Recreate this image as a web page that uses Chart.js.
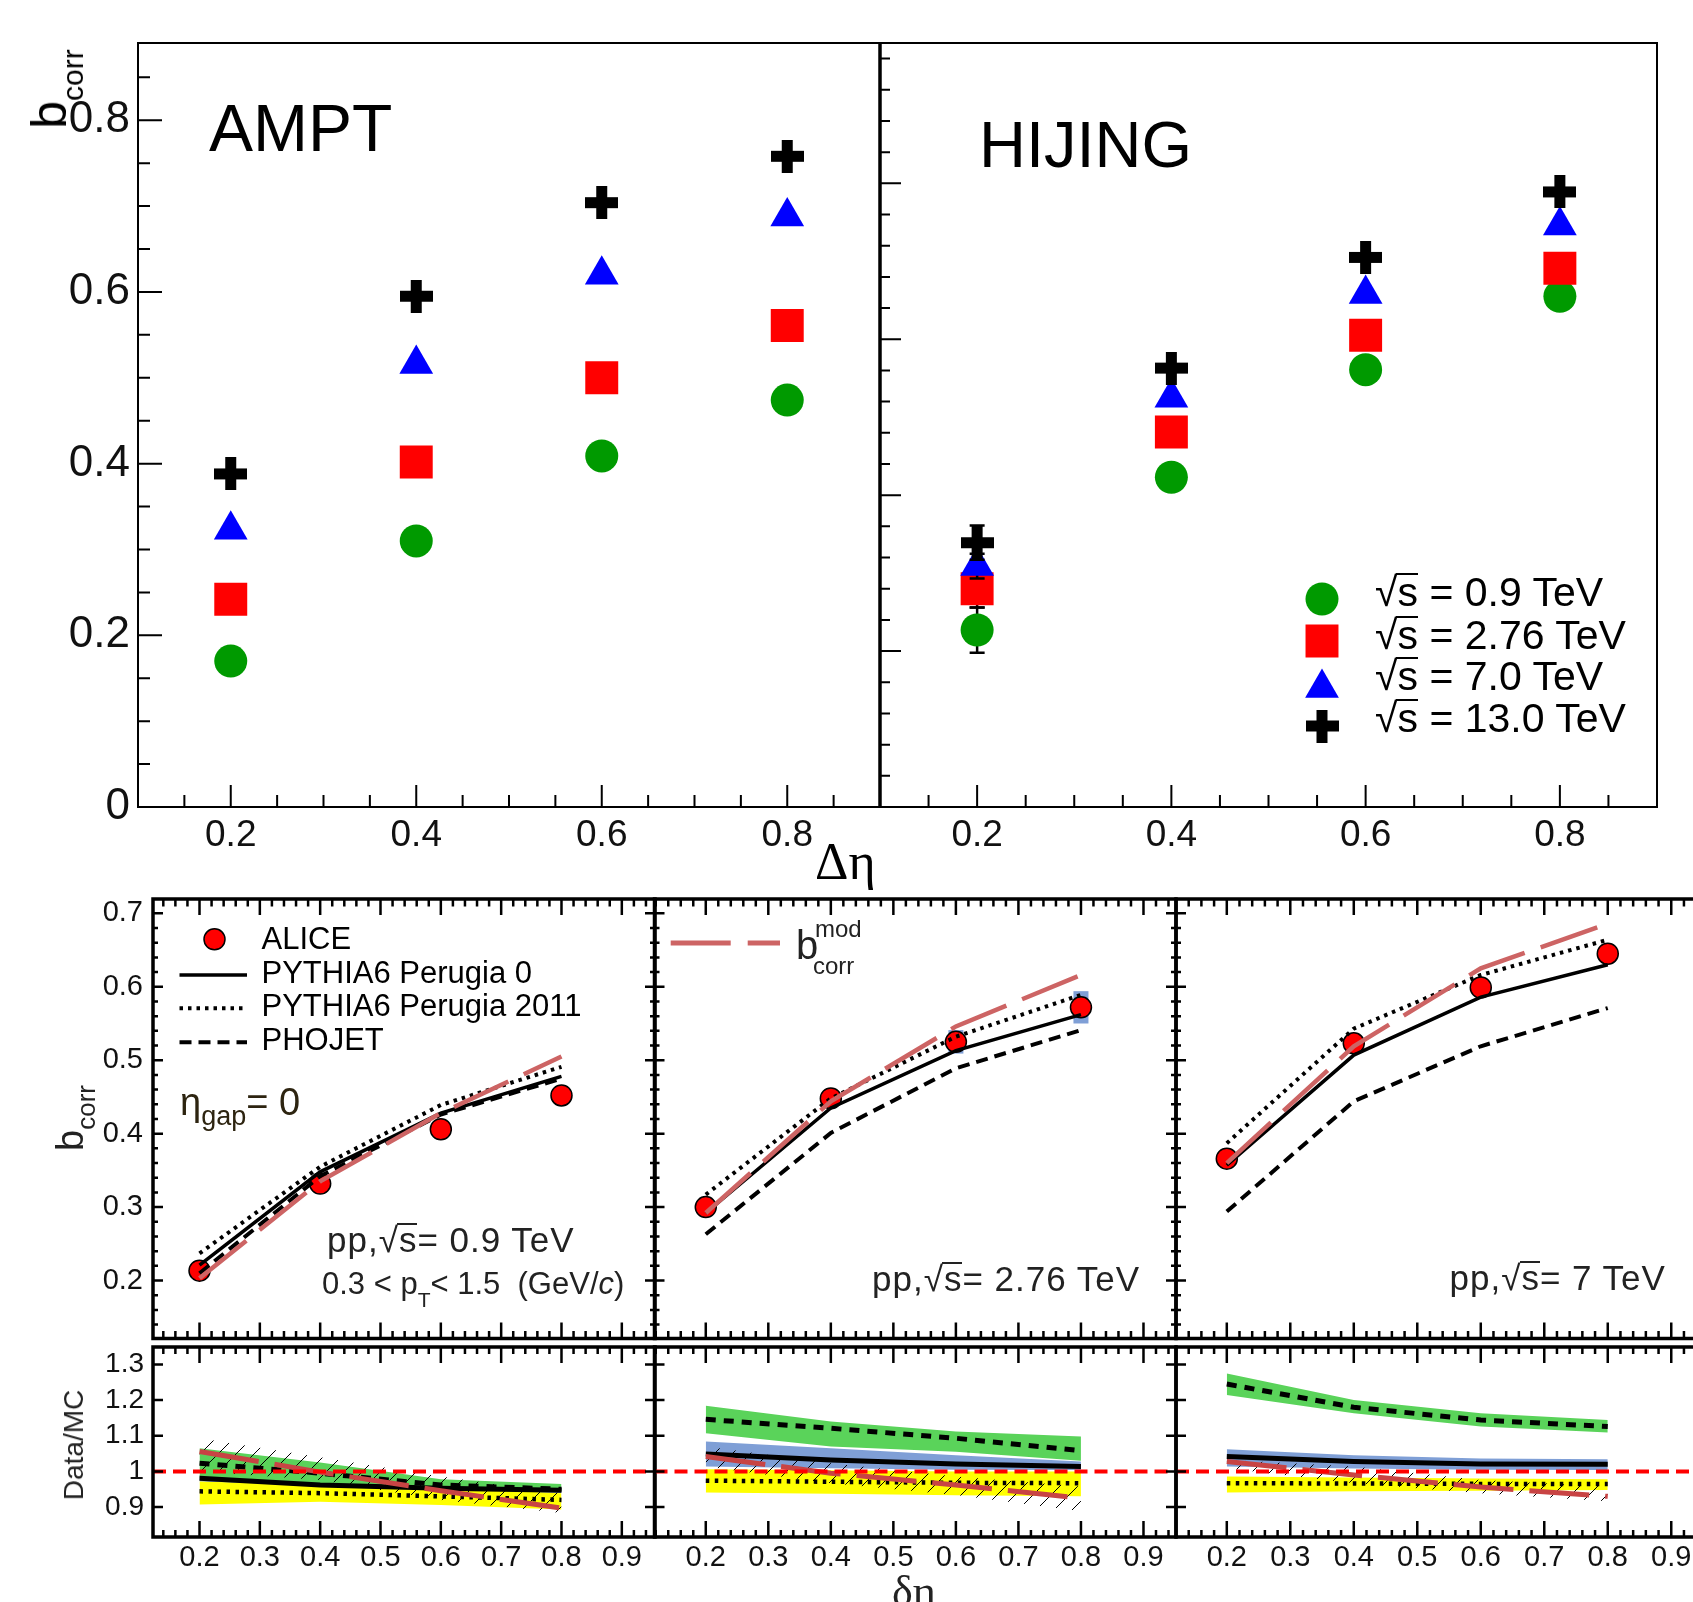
<!DOCTYPE html>
<html>
<head>
<meta charset="utf-8">
<title>b_corr vs delta eta</title>
<script src="https://cdn.jsdelivr.net/npm/chart.js@4.4.1/dist/chart.umd.min.js"></script>
<style>
  html, body { margin: 0; padding: 0; background: #fff; }
  body { position: relative; width: 1693px; height: 1602px; overflow: hidden;
         font-family: "Liberation Sans", Arial, sans-serif; }
  canvas { position: absolute; }
  .t { position: absolute; white-space: nowrap; line-height: 1; color: #000; }
  .rot { transform: translate(-50%, -50%) rotate(-90deg); }
  .ov { position: relative; display: inline-block; }
  .ov::before { content: ''; position: absolute; left: -0.04em; right: 0; top: 0.03em;
                border-top: 2px solid currentColor; }
  .serif { font-family: "Liberation Serif", "DejaVu Serif", serif; }
</style>
</head>
<body>
<canvas id="ampt"></canvas>
<canvas id="hijing"></canvas>
<canvas id="m09"></canvas>
<canvas id="r09"></canvas>
<canvas id="m276"></canvas>
<canvas id="r276"></canvas>
<canvas id="m7"></canvas>
<canvas id="r7"></canvas>
<script>
// ---- data ----
const deta = [0.2, 0.4, 0.6, 0.8];

// top row: AMPT / HIJING, one array per sqrt(s)
const amptS09  = [0.170, 0.310, 0.409, 0.474];
const amptS276 = [0.242, 0.402, 0.500, 0.561];
const amptS7   = [0.323, 0.516, 0.620, 0.688];
const amptS13  = [0.388, 0.595, 0.704, 0.758];

const hijS09  = [0.227, 0.423, 0.561, 0.655];
const hijS276 = [0.280, 0.481, 0.605, 0.691];
const hijS7   = [0.309, 0.525, 0.658, 0.746];
const hijS13  = [0.339, 0.563, 0.705, 0.789];
const hijErr09  = [0.029, 0, 0, 0];
const hijErr276 = [0.024, 0, 0, 0];
const hijErr7   = [0.016, 0, 0, 0];
const hijErr13  = [0.022, 0, 0, 0];

// bottom row: ALICE data and generators
const alice09 = [0.2135, 0.332, 0.406, 0.452];
const p0_09   = [0.221, 0.348, 0.428, 0.478];
const p11_09  = [0.237, 0.355, 0.439, 0.491];
const pho09   = [0.210, 0.342, 0.426, 0.475];
const mod09   = [0.203, 0.335, 0.428, 0.505];

const alice276 = [0.300, 0.448, 0.525, 0.572];
const sys276   = [0.008, 0.010, 0.016, 0.022];
const p0_276   = [0.292, 0.435, 0.513, 0.562];
const p11_276  = [0.317, 0.448, 0.532, 0.589];
const pho276   = [0.263, 0.401, 0.489, 0.541];
const mod276   = [0.292, 0.444, 0.546, 0.616];

const alice7 = [0.366, 0.523, 0.599, 0.645];
const p0_7   = [0.357, 0.507, 0.586, 0.630];
const p11_7  = [0.387, 0.543, 0.616, 0.664];
const pho7   = [0.294, 0.444, 0.519, 0.571];
const mod7   = [0.360, 0.519, 0.625, 0.686];

// ratios Data/MC: central lines and bands (hi, lo)
const rPho09 = [1.023, 0.995, 0.962, 0.950], rPhoHi09 = [1.065, 1.025, 0.978, 0.965], rPhoLo09 = [0.981, 0.962, 0.953, 0.944];
const rP0_09 = [0.981, 0.962, 0.953, 0.947], rP0Hi09 = [0.990, 0.970, 0.960, 0.955], rP0Lo09 = [0.972, 0.955, 0.946, 0.940];
const rP11_09 = [0.944, 0.939, 0.930, 0.920], rP11Hi09 = [0.972, 0.962, 0.955, 0.939], rP11Lo09 = [0.907, 0.915, 0.906, 0.893];
const rMod09 = [1.056, 0.998, 0.946, 0.897], rModHi09 = [1.093, 1.040, 0.986, 0.939], rModLo09 = [1.000, 0.976, 0.920, 0.883];

const rPho276 = [1.146, 1.121, 1.093, 1.058], rPhoHi276 = [1.184, 1.140, 1.112, 1.098], rPhoLo276 = [1.107, 1.070, 1.055, 1.030];
const rP0_276 = [1.049, 1.032, 1.021, 1.014], rP0Hi276 = [1.084, 1.065, 1.045, 1.028], rP0Lo276 = [1.014, 1.009, 1.005, 1.004];
const rP11_276 = [0.974, 0.971, 0.968, 0.967], rP11Hi276 = [1.006, 1.003, 1.000, 1.000], rP11Lo276 = [0.941, 0.937, 0.933, 0.930];
const rMod276 = [1.042, 0.995, 0.962, 0.925], rModHi276 = [1.070, 1.023, 0.986, 0.958], rModLo276 = [1.014, 0.967, 0.934, 0.888];

const rPho7 = [1.245, 1.180, 1.144, 1.126], rPhoHi7 = [1.275, 1.200, 1.163, 1.144], rPhoLo7 = [1.214, 1.163, 1.126, 1.109];
const rP0_7 = [1.042, 1.028, 1.021, 1.020], rP0Hi7 = [1.062, 1.045, 1.036, 1.034], rP0Lo7 = [1.014, 1.008, 1.005, 1.004];
const rP11_7 = [0.967, 0.966, 0.965, 0.965], rP11Hi7 = [0.986, 0.983, 0.980, 0.978], rP11Lo7 = [0.941, 0.944, 0.946, 0.948];
const rMod7 = [1.028, 0.990, 0.956, 0.930], rModHi7 = [1.032, 1.014, 0.976, 0.958], rModLo7 = [1.009, 0.967, 0.939, 0.916];

// tick labels
const topXTicks = [0.2, 0.4, 0.6, 0.8];
const amptYTicks = [0, 0.2, 0.4, 0.6, 0.8];
const botXTicks = [0.2, 0.3, 0.4, 0.5, 0.6, 0.7, 0.8, 0.9];
const mainYTicks = [0.2, 0.3, 0.4, 0.5, 0.6, 0.7];
const ratioYTicks = [0.9, 1.0, 1.1, 1.2, 1.3];

// ---- helpers ----
function steps(a, b, s, skip) {
  const out = [];
  for (let i = 0; a + i * s <= b + 1e-9; i++) {
    const v = +(a + i * s).toFixed(4);
    if (!skip || !skip.some(m => Math.abs(m - v) < 1e-6)) out.push(v);
  }
  return out;
}
const pts = arr => deta.map((x, i) => ({ x: x, y: arr[i] }));
const fmt = v => (Math.abs(v) < 1e-9 ? '0' : Math.abs(v - 1) < 1e-9 ? '1' : v.toFixed(1));

const plusStyle = (() => {
  const s = 33, b = 11, c = document.createElement('canvas');
  c.width = c.height = s;
  const g = c.getContext('2d');
  g.fillStyle = '#000';
  g.fillRect((s - b) / 2, 0, b, s);
  g.fillRect(0, (s - b) / 2, s, b);
  return c;
})();

function hatchPattern() {
  const n = 18, c = document.createElement('canvas');
  c.width = c.height = n;
  const g = c.getContext('2d');
  g.strokeStyle = '#000';
  g.lineWidth = 1;
  g.beginPath();
  g.moveTo(0, n); g.lineTo(n, 0);
  g.moveTo(-2, 2); g.lineTo(2, -2);
  g.moveTo(n - 2, n + 2); g.lineTo(n + 2, n - 2);
  g.stroke();
  return g.createPattern(c, 'repeat');
}
const HATCH = hatchPattern();

function drawMarker(ctx, style, x, y, r, color) {
  ctx.fillStyle = color;
  ctx.beginPath();
  if (style === 'circle') ctx.arc(x, y, r, 0, Math.PI * 2);
  else if (style === 'rect') { const s = r * Math.SQRT1_2; ctx.rect(x - s, y - s, 2 * s, 2 * s); }
  else if (style === 'triangle') {
    ctx.moveTo(x, y - r);
    ctx.lineTo(x + 0.866 * r, y + 0.5 * r);
    ctx.lineTo(x - 0.866 * r, y + 0.5 * r);
    ctx.closePath();
  } else { ctx.drawImage(style, x - style.width / 2, y - style.height / 2); return; }
  ctx.fill();
}

// frame with inward ticks
function framePlugin(o) {
  return {
    id: 'frame',
    afterDatasetsDraw(chart) {
      const { ctx, chartArea: a } = chart;
      const sx = chart.scales.x, sy = chart.scales.y;
      ctx.save();
      ctx.setLineDash([]);
      ctx.strokeStyle = '#000';
      ctx.lineWidth = o.tw;
      ctx.beginPath();
      const tx = (vals, len) => vals.forEach(v => {
        if (v <= sx.min || v >= sx.max) return;
        const p = sx.getPixelForValue(v);
        if (o.bottom) { ctx.moveTo(p, a.bottom); ctx.lineTo(p, a.bottom - len); }
        if (o.top) { ctx.moveTo(p, a.top); ctx.lineTo(p, a.top + len); }
      });
      const ty = (vals, len) => vals.forEach(v => {
        if (v <= sy.min || v >= sy.max) return;
        const p = sy.getPixelForValue(v);
        if (o.left) { ctx.moveTo(a.left, p); ctx.lineTo(a.left + len, p); }
        if (o.right) { ctx.moveTo(a.right, p); ctx.lineTo(a.right - len, p); }
      });
      tx(o.xMajor, o.xLen[0]); tx(o.xMinor || [], o.xLen[1]);
      ty(o.yMajor, o.yLen[0]); ty(o.yMinor || [], o.yLen[1]);
      ctx.stroke();
      ctx.lineWidth = o.lw;
      ctx.strokeRect(a.left, a.top, a.right - a.left, a.bottom - a.top);
      if (o.leftLw) {
        ctx.lineWidth = o.leftLw;
        ctx.beginPath();
        ctx.moveTo(a.left, a.top - 1); ctx.lineTo(a.left, a.bottom + 1);
        ctx.stroke();
      }
      ctx.restore();
    }
  };
}

// error bars and systematic boxes, drawn just before their dataset
const errPlugin = {
  id: 'errbars',
  beforeDatasetDraw(chart, args) {
    const ds = chart.data.datasets[args.index];
    const { ctx } = chart, sx = chart.scales.x, sy = chart.scales.y;
    if (!ds.err && !ds.sys) return;
    ctx.save();
    ds.data.forEach((p, i) => {
      const px = sx.getPixelForValue(p.x);
      if (ds.sys && ds.sys[i]) {
        ctx.fillStyle = ds.sysColor;
        const y1 = sy.getPixelForValue(p.y + ds.sys[i]), y2 = sy.getPixelForValue(p.y - ds.sys[i]);
        ctx.fillRect(px - ds.sysHalf, y1, 2 * ds.sysHalf, y2 - y1);
      }
      if (ds.err && ds.err[i]) {
        const y1 = sy.getPixelForValue(p.y + ds.err[i]), y2 = sy.getPixelForValue(p.y - ds.err[i]);
        ctx.strokeStyle = '#000';
        ctx.lineWidth = 2.5;
        ctx.beginPath();
        ctx.moveTo(px, y1); ctx.lineTo(px, y2);
        ctx.moveTo(px - 7.5, y1); ctx.lineTo(px + 7.5, y1);
        ctx.moveTo(px - 7.5, y2); ctx.lineTo(px + 7.5, y2);
        ctx.stroke();
      }
    });
    ctx.restore();
  }
};

// legend glyphs, page coordinates shifted into the canvas
function keysPlugin(items, box) {
  return {
    id: 'keys',
    afterDraw(chart) {
      const ctx = chart.ctx;
      ctx.save();
      items.forEach(it => {
        const x = it.x - box.x, y = it.y - box.y;
        if (it.marker) {
          drawMarker(ctx, it.marker, x, y, it.r, it.color);
          if (it.stroke) { ctx.lineWidth = it.stroke; ctx.strokeStyle = '#000'; ctx.stroke(); }
        } else {
          ctx.strokeStyle = it.color;
          ctx.lineWidth = it.w;
          ctx.setLineDash(it.dash || []);
          ctx.beginPath();
          ctx.moveTo(x, y); ctx.lineTo(it.x2 - box.x, y);
          ctx.stroke();
        }
      });
      ctx.restore();
    }
  };
}

function build(id, box, area, o) {
  const cv = document.getElementById(id);
  cv.width = box.w; cv.height = box.h;
  cv.style.left = box.x + 'px'; cv.style.top = box.y + 'px';
  const yW = area.l - box.x, xH = box.y + box.h - area.b;
  const axis = (show, ticks, min, max, font, pad, size) => ({
    type: 'linear', min: min, max: max, display: show,
    grid: { display: false, drawTicks: false }, border: { display: false },
    afterFit: s => {
      const v = show ? size : 0;
      if (s.isHorizontal()) s.height = v; else s.width = v;
      s.paddingLeft = s.paddingRight = s.paddingTop = s.paddingBottom = 0;
    },
    afterBuildTicks: s => { s.ticks = ticks.map(v => ({ value: v })); },
    ticks: { autoSkip: false, maxRotation: 0, minRotation: 0, padding: pad, color: '#111',
             font: { family: 'Liberation Sans', size: font }, callback: v => fmt(v) }
  });
  return new Chart(cv, {
    type: 'line',
    data: { datasets: o.datasets },
    options: {
      responsive: false, animation: false, events: [],
      layout: { autoPadding: false,
                padding: { left: o.yLabels ? 0 : yW, top: area.t - box.y,
                           right: box.x + box.w - area.r, bottom: o.xLabels ? 0 : xH } },
      plugins: { legend: { display: false }, tooltip: { enabled: false } },
      scales: {
        x: axis(!!o.xLabels, o.xTicks || [], o.x[0], o.x[1], o.xFont, o.xPad, xH),
        y: axis(!!o.yLabels, o.yTicks || [], o.y[0], o.y[1], o.yFont, o.yPad, yW)
      }
    },
    plugins: [errPlugin, framePlugin(o.frame), keysPlugin(o.keys || [], box)]
  });
}

// ---- top row ----
function topSets(s09, s276, s7, s13, errs) {
  errs = errs || [];
  return [
    { data: pts(s09), pointStyle: 'circle', pointRadius: 16.5, backgroundColor: '#009a00', order: 4, err: errs[0] },
    { data: pts(s276), pointStyle: 'rect', pointRadius: 23.3, backgroundColor: '#ff0000', order: 3, err: errs[1] },
    { data: pts(s7), pointStyle: 'triangle', pointRadius: 19.5, backgroundColor: '#0000ff', order: 2, err: errs[2] },
    { data: pts(s13), pointStyle: plusStyle, pointRadius: 16.5, backgroundColor: '#000', order: 1, err: errs[3] }
  ].map(d => Object.assign({ showLine: false, borderWidth: 0, pointBorderWidth: 0,
                             pointBackgroundColor: d.backgroundColor }, d));
}
const topXMinor = steps(0.15, 0.85, 0.05, [0.2, 0.4, 0.6, 0.8]);

build('ampt', { x: 0, y: 0, w: 884, h: 900 }, { l: 138, t: 43, r: 880, b: 807 }, {
  datasets: topSets(amptS09, amptS276, amptS7, amptS13),
  x: [0.1, 0.9], y: [0, 0.89],
  xLabels: true, xTicks: topXTicks, xFont: 37, xPad: 7,
  yLabels: true, yTicks: amptYTicks, yFont: 44, yPad: 8,
  frame: { lw: 2, tw: 2, left: true, bottom: true,
           xMajor: topXTicks, xMinor: topXMinor, xLen: [22, 12],
           yMajor: amptYTicks, yMinor: steps(0.05, 0.85, 0.05, amptYTicks), yLen: [24, 12] }
});

const hijYMajor = [0, 0.2, 0.4, 0.6, 0.8];
build('hijing', { x: 872, y: 0, w: 821, h: 900 }, { l: 880, t: 43, r: 1657, b: 807 }, {
  datasets: topSets(hijS09, hijS276, hijS7, hijS13, [hijErr09, hijErr276, hijErr7, hijErr13]),
  x: [0.1, 0.9], y: [0, 0.98],
  xLabels: true, xTicks: topXTicks, xFont: 37, xPad: 7,
  frame: { lw: 2, tw: 2, leftLw: 3.5, left: true, bottom: true,
           xMajor: topXTicks, xMinor: topXMinor, xLen: [22, 12],
           yMajor: hijYMajor, yMinor: steps(0.04, 0.96, 0.04, hijYMajor), yLen: [21, 10] },
  keys: [
    { marker: 'circle', x: 1322, y: 599, r: 16.5, color: '#009a00' },
    { marker: 'rect', x: 1322, y: 641, r: 23.3, color: '#ff0000' },
    { marker: 'triangle', x: 1322, y: 688, r: 19.5, color: '#0000ff' },
    { marker: plusStyle, x: 1322, y: 726, r: 16.5, color: '#000' }
  ]
});

// ---- bottom row ----
const RED_MOD = '#cd6464', RED_R = '#c84444';
const line = (arr, color, w, dash, order) => ({
  data: pts(arr), showLine: true, pointRadius: 0, borderColor: color, borderWidth: w,
  borderDash: dash || [], order: order, fill: false, tension: 0
});
const band = (hi, lo, color, order) => [
  Object.assign(line(hi, 'rgba(0,0,0,0)', 0, [], order), { fill: '+1', backgroundColor: color }),
  line(lo, 'rgba(0,0,0,0)', 0, [], order)
];

function mainSets(alice, p0, p11, pho, mod, sys) {
  return [
    line(mod, RED_MOD, 4.5, [60, 17], 1),
    line(p0, '#000', 3.5, [], 2),
    line(p11, '#000', 4, [3.5, 5], 2),
    line(pho, '#000', 4, [12, 7], 2),
    { data: pts(alice), showLine: false, pointStyle: 'circle', pointRadius: 10.5,
      pointBackgroundColor: '#ff0000', pointBorderColor: '#000', pointBorderWidth: 1.5,
      order: 5, sys: sys, sysColor: '#7f9fd6', sysHalf: 7.5 }
  ];
}
function ratioSets(x, pho, phoHi, phoLo, p0, p0Hi, p0Lo, p11, p11Hi, p11Lo, mod, modHi, modLo) {
  return [
    { data: [{ x: x[0], y: 1 }, { x: x[1], y: 1 }], showLine: true, pointRadius: 0,
      borderColor: '#ff0000', borderWidth: 4, borderDash: [13, 7], order: 0, fill: false },
    line(mod, RED_R, 5, [60, 16], 1),
    line(p0, '#000', 5, [], 2),
    line(p11, '#000', 4.5, [3.5, 5.5], 2),
    line(pho, '#000', 5, [10, 8], 2),
    ...band(modHi, modLo, HATCH, 5),
    ...band(p11Hi, p11Lo, '#ffff00', 6),
    ...band(phoHi, phoLo, '#5ad35a', 7),
    ...band(p0Hi, p0Lo, '#7f9fd6', 8)
  ];
}

const mainFrame = () => ({
  lw: 3.5, tw: 2.5, left: true, right: true, top: true, bottom: true,
  xMajor: botXTicks, xMinor: steps(0.12, 0.96, 0.02, botXTicks), xLen: [16, 7.5],
  yMajor: mainYTicks, yMinor: steps(0.14, 0.70, 0.02, mainYTicks), yLen: [10, 5]
});
const ratioFrame = () => ({
  lw: 3.5, tw: 2.5, left: true, right: true, top: true, bottom: true,
  xMajor: botXTicks, xMinor: steps(0.12, 0.96, 0.02, botXTicks), xLen: [16, 7],
  yMajor: ratioYTicks, yLen: [10, 5]
});
const mainY = [0.1211, 0.7195], ratioY = [0.816, 1.349];
const x09 = [0.1229, 0.955], x276 = [0.118, 0.952], x7 = [0.12, 0.95];

build('m09', { x: 0, y: 880, w: 670, h: 470 }, { l: 153, t: 899, r: 655, b: 1338.5 }, {
  datasets: mainSets(alice09, p0_09, p11_09, pho09, mod09, null),
  x: x09, y: mainY, yLabels: true, yTicks: mainYTicks, yFont: 29, yPad: 10,
  frame: mainFrame(),
  keys: [
    { marker: 'circle', x: 214.5, y: 939.3, r: 10.5, color: '#ff0000', stroke: 1.5 },
    { x: 179.5, x2: 247, y: 975, w: 3.5, color: '#000' },
    { x: 179.5, x2: 247, y: 1008.3, w: 4, color: '#000', dash: [3.5, 5] },
    { x: 179.5, x2: 247, y: 1042.3, w: 4, color: '#000', dash: [12, 7] }
  ]
});
build('r09', { x: 0, y: 1330, w: 670, h: 272 }, { l: 153, t: 1347, r: 655, b: 1537 }, {
  datasets: ratioSets(x09, rPho09, rPhoHi09, rPhoLo09, rP0_09, rP0Hi09, rP0Lo09,
                      rP11_09, rP11Hi09, rP11Lo09, rMod09, rModHi09, rModLo09),
  x: x09, y: ratioY, xLabels: true, xTicks: botXTicks, xFont: 29, xPad: 4,
  yLabels: true, yTicks: ratioYTicks, yFont: 28, yPad: 9,
  frame: ratioFrame()
});

build('m276', { x: 640, y: 880, w: 550, h: 470 }, { l: 654.5, t: 899, r: 1176, b: 1338.5 }, {
  datasets: mainSets(alice276, p0_276, p11_276, pho276, mod276, sys276),
  x: x276, y: mainY, frame: mainFrame(),
  keys: [{ x: 670.7, x2: 780, y: 943, w: 5, color: RED_MOD, dash: [60, 17] }]
});
build('r276', { x: 640, y: 1330, w: 550, h: 272 }, { l: 654.5, t: 1347, r: 1176, b: 1537 }, {
  datasets: ratioSets(x276, rPho276, rPhoHi276, rPhoLo276, rP0_276, rP0Hi276, rP0Lo276,
                      rP11_276, rP11Hi276, rP11Lo276, rMod276, rModHi276, rModLo276),
  x: x276, y: ratioY, xLabels: true, xTicks: botXTicks, xFont: 29, xPad: 4,
  frame: ratioFrame()
});

build('m7', { x: 1160, y: 880, w: 560, h: 470 }, { l: 1176, t: 899, r: 1703, b: 1338.5 }, {
  datasets: mainSets(alice7, p0_7, p11_7, pho7, mod7, null),
  x: x7, y: mainY, frame: mainFrame()
});
build('r7', { x: 1160, y: 1330, w: 560, h: 272 }, { l: 1176, t: 1347, r: 1703, b: 1537 }, {
  datasets: ratioSets(x7, rPho7, rPhoHi7, rPhoLo7, rP0_7, rP0Hi7, rP0Lo7,
                      rP11_7, rP11Hi7, rP11Lo7, rMod7, rModHi7, rModLo7),
  x: x7, y: ratioY, xLabels: true, xTicks: botXTicks, xFont: 29, xPad: 4,
  frame: ratioFrame()
});

// ---- text ----
function put(html, x, y, size, cls, style) {
  const d = document.createElement('div');
  d.className = 't ' + (cls || '');
  d.style.left = x + 'px'; d.style.top = y + 'px'; d.style.fontSize = size + 'px';
  if (style) d.style.cssText += style;
  d.innerHTML = html;
  document.body.appendChild(d);
  return d;
}
const sub = (t, size, dy) => `<span style="font-size:${size}px;position:relative;top:${dy}px">${t}</span>`;
const rs = '√<span class="ov">s</span>';

put('AMPT', 209, 95, 66);
put('HIJING', 979, 112, 65);
put('b' + sub('corr', 30, 17), 49, 89, 50, 'rot');
put('Δη', 815, 836, 52, 'serif');
put(rs + ' = 0.9 TeV', 1375, 572, 41);
put(rs + ' = 2.76 TeV', 1375, 615, 41);
put(rs + ' = 7.0 TeV', 1375, 656, 41);
put(rs + ' = 13.0 TeV', 1375, 698, 41);

put('ALICE', 261.5, 923, 31);
put('PYTHIA6 Perugia 0', 261.5, 957, 31);
put('PYTHIA6 Perugia 2011', 261.5, 990, 31);
put('PHOJET', 261.5, 1024, 31);
put('η' + sub('gap', 27, 10) + '= 0', 180, 1083, 38, '', 'color:#2d2410');
put('pp,' + rs + '= 0.9 TeV', 327, 1222, 35, '', 'color:#222;letter-spacing:1px');
put('0.3 &lt; p' + sub('T', 21, 13) + '&lt; 1.5&nbsp; (GeV/<i>c</i>)', 322, 1268, 31, '', 'color:#222');
put('pp,' + rs + '= 2.76 TeV', 872, 1261, 35, '', 'color:#222;letter-spacing:1px');
put('pp,' + rs + '= 7 TeV', 1449.5, 1260, 35, '', 'color:#222;letter-spacing:1px');
put('b', 796, 925, 40, '', 'color:#222');
put('mod', 815, 917, 24, '', 'color:#222');
put('corr', 813, 954, 24, '', 'color:#222');
put('b' + sub('corr', 26, 12), 70, 1118, 38, 'rot', 'color:#222');
put('Data/MC', 74, 1445, 28, 'rot', 'color:#222');
put('δη', 892, 1570, 44, 'serif', 'color:#222');
</script>
</body>
</html>
